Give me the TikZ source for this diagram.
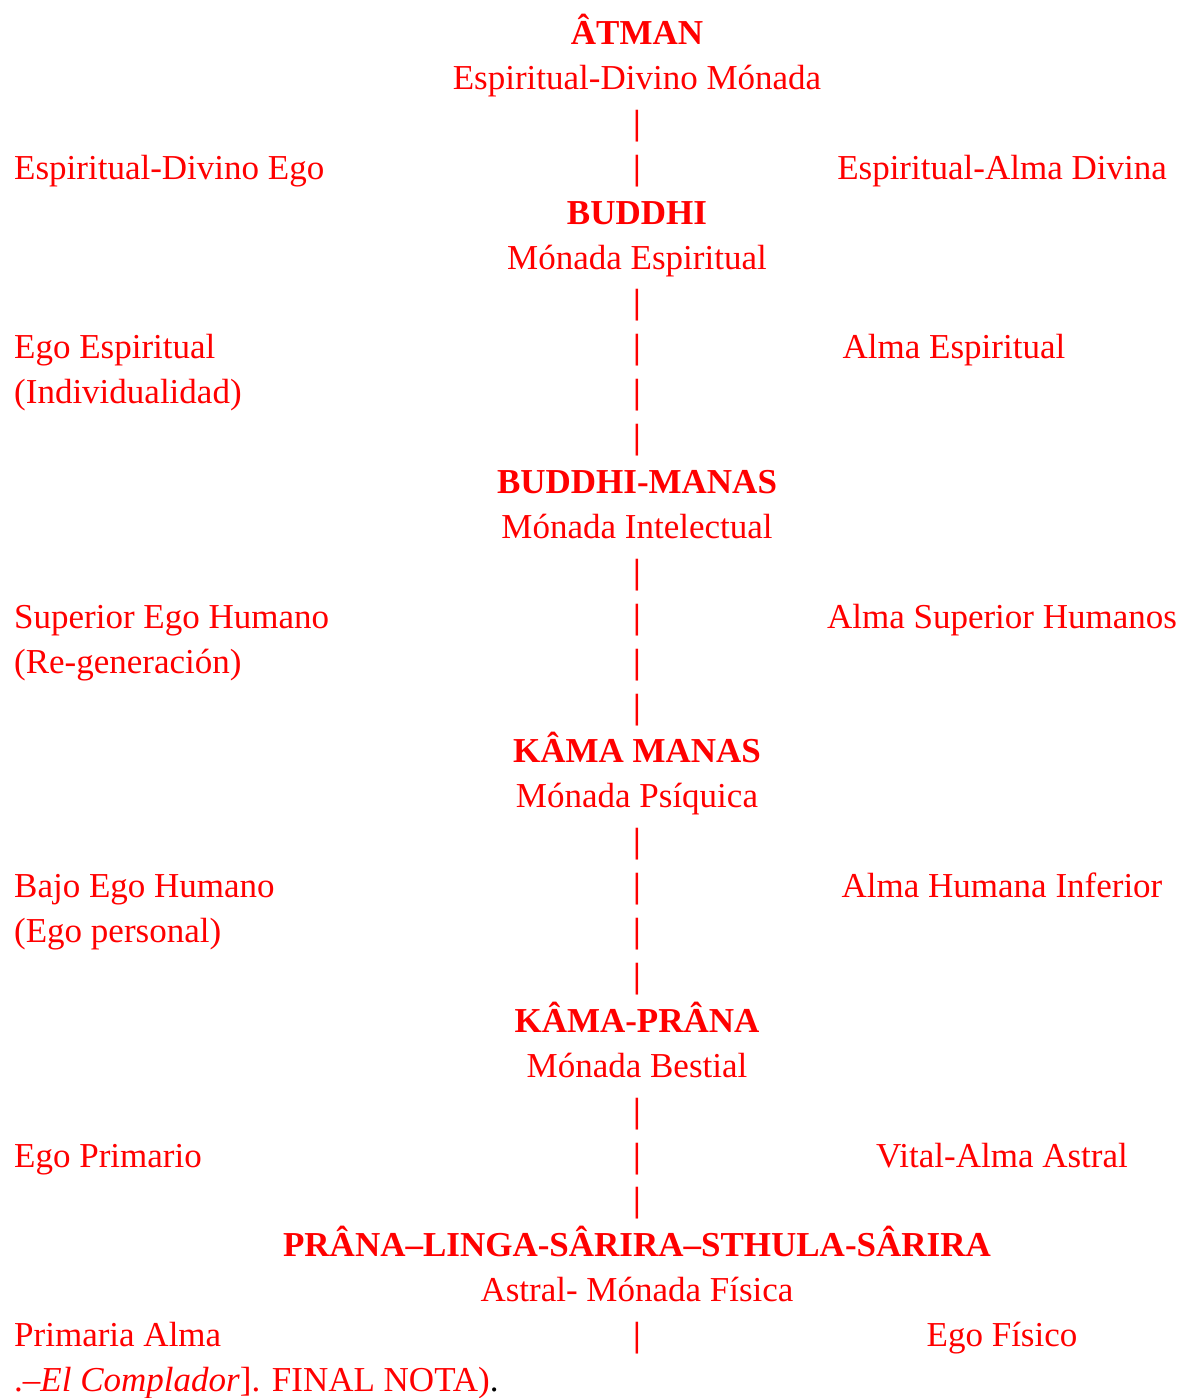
\documentclass[tikz,border=0pt]{standalone}
\usepackage{fontspec}
\setmainfont{Liberation Serif}
\usepackage{tikz}

\tikzset{
    txt/.style = {text = red, inner sep = 0, anchor = base, font = \fontsize{35}{42}\selectfont},
    hd/.style  = {txt, font = \fontsize{35}{42}\selectfont\bfseries},
    lft/.style = {txt, anchor = base west},
    bar/.style = {hd}
}

\begin{document}
\begin{tikzpicture}[x = 1pt, y = -1pt]

            % page frame
            \useasboundingbox (0,0) rectangle (1180,1398);

            % Atman
            \node[hd]  (atman)     at (637,44.5)  {ÂTMAN};
            \node[txt] (atmanSub)  at (637,89.4)  {Espiritual-Divino Mónada};
            \node[bar] (bar1)      at (637,134.3) {|};
            \node[bar] (bar2)      at (637,179.2) {|};
            \node[lft] (egoA)      at (14,179.2)  {Espiritual-Divino Ego};
            \node[txt] (almaA)     at (1002,179.2) {Espiritual-Alma Divina};

            % Buddhi
            \node[hd]  (buddhi)    at (637,224.1) {BUDDHI};
            \node[txt] (buddhiSub) at (637,269.0) {Mónada Espiritual};
            \node[bar] (bar3)      at (637,313.9) {|};
            \node[bar] (bar4)      at (637,358.8) {|};
            \node[bar] (bar5)      at (637,403.7) {|};
            \node[bar] (bar6)      at (637,448.6) {|};
            \node[lft] (egoB)      at (14,358.8)  {Ego Espiritual};
            \node[lft] (egoBb)     at (14,403.7)  {(Individualidad)};
            \node[txt] (almaB)     at (954,358.8) {Alma Espiritual};

            % Buddhi-Manas
            \node[hd]  (manas)     at (637,493.5) {BUDDHI-MANAS};
            \node[txt] (manasSub)  at (637,538.4) {Mónada Intelectual};
            \node[bar] (bar7)      at (637,583.3) {|};
            \node[bar] (bar8)      at (637,628.2) {|};
            \node[bar] (bar9)      at (637,673.1) {|};
            \node[bar] (bar10)     at (637,718.0) {|};
            \node[lft] (egoC)      at (14,628.2)  {Superior Ego Humano};
            \node[lft] (egoCc)     at (14,673.1)  {(Re-generación)};
            \node[txt] (almaC)     at (1002,628.2) {Alma Superior Humanos};

            % Kama Manas
            \node[hd]  (kama)      at (637,762.9) {KÂMA MANAS};
            \node[txt] (kamaSub)   at (637,807.8) {Mónada Psíquica};
            \node[bar] (bar11)     at (637,852.7) {|};
            \node[bar] (bar12)     at (637,897.6) {|};
            \node[bar] (bar13)     at (637,942.5) {|};
            \node[bar] (bar14)     at (637,987.4) {|};
            \node[lft] (egoD)      at (14,897.6)  {Bajo Ego Humano};
            \node[lft] (egoDd)     at (14,942.5)  {(Ego personal)};
            \node[txt] (almaD)     at (1002,897.6) {Alma Humana Inferior};

            % Kama-Prana
            \node[hd]  (prana)     at (637,1032.3) {KÂMA-PRÂNA};
            \node[txt] (pranaSub)  at (637,1077.2) {Mónada Bestial};
            \node[bar] (bar15)     at (637,1122.1) {|};
            \node[bar] (bar16)     at (637,1167.0) {|};
            \node[bar] (bar17)     at (637,1211.9) {|};
            \node[lft] (egoE)      at (14,1167.0) {Ego Primario};
            \node[txt] (almaE)     at (1002,1167.0) {Vital-Alma Astral};

            % Prana-Linga-Sarira-Sthula-Sarira
            \node[hd]  (linga)     at (637,1256.8) {PRÂNA–LINGA-SÂRIRA–STHULA-SÂRIRA};
            \node[txt] (lingaSub)  at (637,1301.7) {Astral- Mónada Física};
            \node[bar] (bar18)     at (637,1346.6) {|};
            \node[lft] (almaF)     at (14,1346.6) {Primaria Alma};
            \node[txt] (egoF)      at (1002,1346.6) {Ego Físico};
            \node[lft] (nota)      at (14,1391.5) {.–\textit{El Complador}]. FINAL NOTA)\textcolor{black}{.}};
        \end{tikzpicture}
\end{document}
